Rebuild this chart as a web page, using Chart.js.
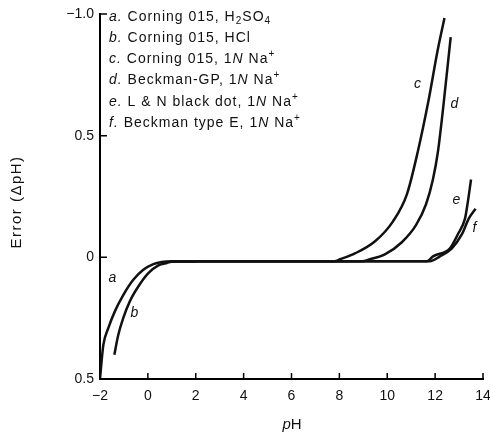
<!DOCTYPE html>
<html lang="en">
<head>
<meta charset="UTF-8" />
<title>Glass electrode error vs pH</title>
<style>
    html, body {
        margin: 0;
        padding: 0;
        background: #fff;
    }
    .chart-box {
        position: relative;
        width: 490px;
        height: 434px;
    }
</style>
<script src="https://cdn.jsdelivr.net/npm/chart.js"></script>
</head>
<body>
<div class="chart-box"><canvas id="ph-chart"></canvas></div>
<script>
    // legend entries (markup: _{} subscript, ^{} superscript, *..* italic)
    const curveKeys = ['a', 'b', 'c', 'd', 'e', 'f'];
    const curveNames = [
        'Corning 015, H_{2}SO_{4}',
        'Corning 015, HCl',
        'Corning 015, 1*N* Na^{+}',
        'Beckman-GP, 1*N* Na^{+}',
        'L & N black dot, 1*N* Na^{+}',
        'Beckman type E, 1*N* Na^{+}'
    ];

    // curves: pH and error (ΔpH)
    const phA  = [-2.0, -1.96, -1.86, -1.65, -1.37, -1.03, -0.61, -0.19, 0.23, 0.58, 1.0, 2.0];
    const errA = [0.50, 0.456, 0.36, 0.29, 0.22, 0.155, 0.092, 0.051, 0.028, 0.019, 0.016, 0.016];

    const phB  = [-1.40, -1.24, -1.03, -0.75, -0.40, 0.02, 0.44, 0.79, 1.13, 2.0];
    const errB = [0.40, 0.32, 0.25, 0.18, 0.12, 0.065, 0.033, 0.023, 0.016, 0.016];

    const phC  = [1.0, 7.0, 7.8, 8.03, 8.65, 9.49, 10.24, 10.82, 11.28, 11.72, 12.10, 12.39];
    const errC = [0.016, 0.016, 0.016, 0.008, -0.016, -0.066, -0.148, -0.259, -0.436, -0.642, -0.848, -0.984];

    const phD  = [1.0, 8.2, 8.95, 9.28, 9.90, 10.61, 11.20, 11.62, 11.91, 12.12, 12.33, 12.65];
    const errD = [0.016, 0.016, 0.016, 0.008, -0.012, -0.062, -0.132, -0.218, -0.321, -0.436, -0.609, -0.905];

    const phE  = [1.0, 11.0, 11.66, 11.91, 12.62, 12.95, 13.25, 13.37, 13.50];
    const errE = [0.016, 0.016, 0.016, -0.004, -0.037, -0.095, -0.16, -0.23, -0.32];

    const phF  = [1.0, 11.0, 11.78, 12.20, 12.70, 13.12, 13.41, 13.69];
    const errF = [0.016, 0.016, 0.016, -0.004, -0.037, -0.095, -0.16, -0.20];

    // where the curve letters sit (data units)
    const letterPH  = [-1.46, -0.54, 11.28, 12.83, 12.91, 13.66];
    const letterErr = [0.086, 0.23, -0.71, -0.63, -0.235, -0.12];

    // axis ticks
    const xTicks = [-2, 0, 2, 4, 6, 8, 10, 12, 14];
    const xTickLabels = ['\u22122', '0', '2', '4', '6', '8', '10', '12', '14'];
    const yTicks = [-1, -0.5, 0, 0.5];
    const yTickLabels = ['\u22121.0', '0.5', '0', '0.5'];

    const FONT = '"Liberation Sans", Arial, sans-serif';

    function toPoints(xs, ys) {
        return xs.map((v, i) => ({ x: v, y: ys[i] }));
    }

    function parseRich(s) {
        const parts = s.split(/(_\{[^}]*\}|\^\{[^}]*\}|\*[^*]*\*)/).filter(p => p.length);
        return parts.map(p => {
            if (p.startsWith('_{')) return { t: p.slice(2, -1), sub: true };
            if (p.startsWith('^{')) return { t: p.slice(2, -1), sup: true };
            if (p.startsWith('*')) return { t: p.slice(1, -1), it: true };
            return { t: p };
        });
    }

    function drawRich(ctx, segs, x, y, size) {
        segs.forEach(seg => {
            const small = seg.sub || seg.sup;
            const sz = small ? Math.round(size * 0.7) : size;
            ctx.font = (seg.it ? 'italic ' : '') + sz + 'px ' + FONT;
            const dy = seg.sub ? 4 : seg.sup ? -5 : 0;
            ctx.fillText(seg.t, x, y + dy);
            x += ctx.measureText(seg.t).width;
        });
    }

    const decorPlugin = {
        id: 'decor',
        afterDraw(chart) {
            const { ctx, chartArea: area, scales } = chart;
            const x = scales.x, y = scales.y;
            ctx.save();

            // inward tick marks
            ctx.strokeStyle = '#000';
            ctx.lineWidth = 1.5;
            ctx.beginPath();
            xTicks.slice(1).forEach(v => {
                const px = x.getPixelForValue(v);
                ctx.moveTo(px, area.bottom);
                ctx.lineTo(px, area.bottom - 6);
            });
            yTicks.forEach(v => {
                const py = y.getPixelForValue(v);
                ctx.moveTo(area.left, py);
                ctx.lineTo(area.left + 7, py);
            });
            ctx.stroke();

            ctx.fillStyle = '#111';
            ctx.textBaseline = 'middle';
            ctx.textAlign = 'left';
            ctx.letterSpacing = '1px';

            // legend block
            curveKeys.forEach((k, i) => {
                const segs = [{ t: k + '.', it: true }, { t: ' ' }].concat(parseRich(curveNames[i]));
                drawRich(ctx, segs, 109, 17 + i * 21.2, 14);
            });

            // curve letters
            ctx.font = 'italic 14px ' + FONT;
            ctx.textAlign = 'center';
            curveKeys.forEach((k, i) => {
                ctx.fillText(k, x.getPixelForValue(letterPH[i]), y.getPixelForValue(letterErr[i]));
            });

            // axis titles
            ctx.letterSpacing = '1.5px';
            ctx.save();
            ctx.translate(17, 202);
            ctx.rotate(-Math.PI / 2);
            ctx.font = '15px ' + FONT;
            ctx.fillText('Error (\u0394pH)', 0, 0);
            ctx.restore();

            ctx.letterSpacing = '0px';
            ctx.textAlign = 'left';
            ctx.font = 'italic 15px ' + FONT;
            const pw = ctx.measureText('p').width;
            ctx.font = '15px ' + FONT;
            const hw = ctx.measureText('H').width;
            const tx = 292 - (pw + hw) / 2;
            ctx.font = 'italic 15px ' + FONT;
            ctx.fillText('p', tx, 425);
            ctx.font = '15px ' + FONT;
            ctx.fillText('H', tx + pw, 425);

            ctx.restore();
        }
    };

    const allPH = [phA, phB, phC, phD, phE, phF];
    const allErr = [errA, errB, errC, errD, errE, errF];

    new Chart(document.getElementById('ph-chart'), {
        type: 'scatter',
        data: {
            datasets: curveKeys.map((k, i) => ({
                label: k,
                data: toPoints(allPH[i], allErr[i]),
                showLine: true,
                borderColor: '#111',
                borderWidth: 2.5,
                pointRadius: 0,
                cubicInterpolationMode: 'monotone',
                fill: false
            }))
        },
        options: {
            responsive: true,
            maintainAspectRatio: false,
            animation: false,
            layout: { padding: { top: 14, right: 7, left: 0, bottom: 0 } },
            plugins: {
                legend: { display: false },
                tooltip: { enabled: false }
            },
            scales: {
                x: {
                    type: 'linear',
                    min: -2,
                    max: 14,
                    afterFit: s => {
                        s.height = 55;
                        s.paddingLeft = 0;
                        s.paddingRight = 0;
                    },
                    afterBuildTicks: s => { s.ticks = xTicks.map(v => ({ value: v })); },
                    grid: { display: false, drawTicks: false },
                    border: { display: true, color: '#000', width: 2 },
                    ticks: {
                        color: '#111',
                        padding: 9,
                        maxRotation: 0,
                        font: { family: FONT, size: 14 },
                        callback: (v, i) => xTickLabels[i]
                    }
                },
                y: {
                    type: 'linear',
                    reverse: true,
                    min: -1,
                    max: 0.5,
                    afterFit: s => {
                        s.width = 100;
                        s.paddingTop = 0;
                        s.paddingBottom = 0;
                    },
                    afterBuildTicks: s => { s.ticks = yTicks.map(v => ({ value: v })); },
                    grid: { display: false, drawTicks: false },
                    border: { display: true, color: '#000', width: 2 },
                    ticks: {
                        color: '#111',
                        padding: 6,
                        font: { family: FONT, size: 14 },
                        callback: (v, i) => yTickLabels[i]
                    }
                }
            }
        },
        plugins: [decorPlugin]
    });
</script>
</body>
</html>
